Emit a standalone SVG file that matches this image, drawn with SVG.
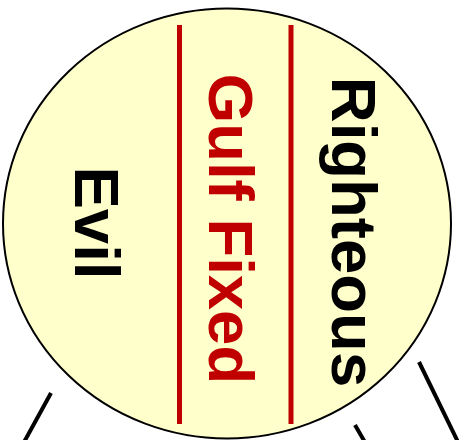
<svg xmlns="http://www.w3.org/2000/svg" width="459" height="440" viewBox="0 0 459 440">
<style>
.lbl{font-family:"Liberation Sans",Arial,sans-serif;font-weight:bold;font-size:63.5px;text-anchor:middle}
.gulf{stroke:#C00000;stroke-width:5}
.conn{stroke:#000;stroke-width:4;fill:none}
</style>
<rect width="459" height="440" fill="#fff"/>
<g id="circle">
<ellipse cx="227" cy="223.5" rx="224" ry="215" fill="#FFFFCC" stroke="#000" stroke-width="2"/>
</g>
<g id="gulf-lines">
<line class="gulf" x1="179.5" y1="25" x2="179.5" y2="424"/>
<line class="gulf" x1="291" y1="25" x2="291" y2="424"/>
</g>
<g id="evil"><text class="lbl" transform="translate(75,223) rotate(90)">Evil</text></g>
<g id="gulf-fixed"><text class="lbl" fill="#C00000" transform="translate(209,229) rotate(90)">Gulf Fixed</text></g>
<g id="righteous"><text class="lbl" transform="translate(332,232) rotate(90)">Righteous</text></g>
<g id="connectors">
<line class="conn" x1="51" y1="393" x2="23" y2="444"/>
<line class="conn" x1="355" y1="425" x2="366" y2="444"/>
<line class="conn" x1="419" y1="362" x2="459" y2="444"/>
</g>
</svg>
